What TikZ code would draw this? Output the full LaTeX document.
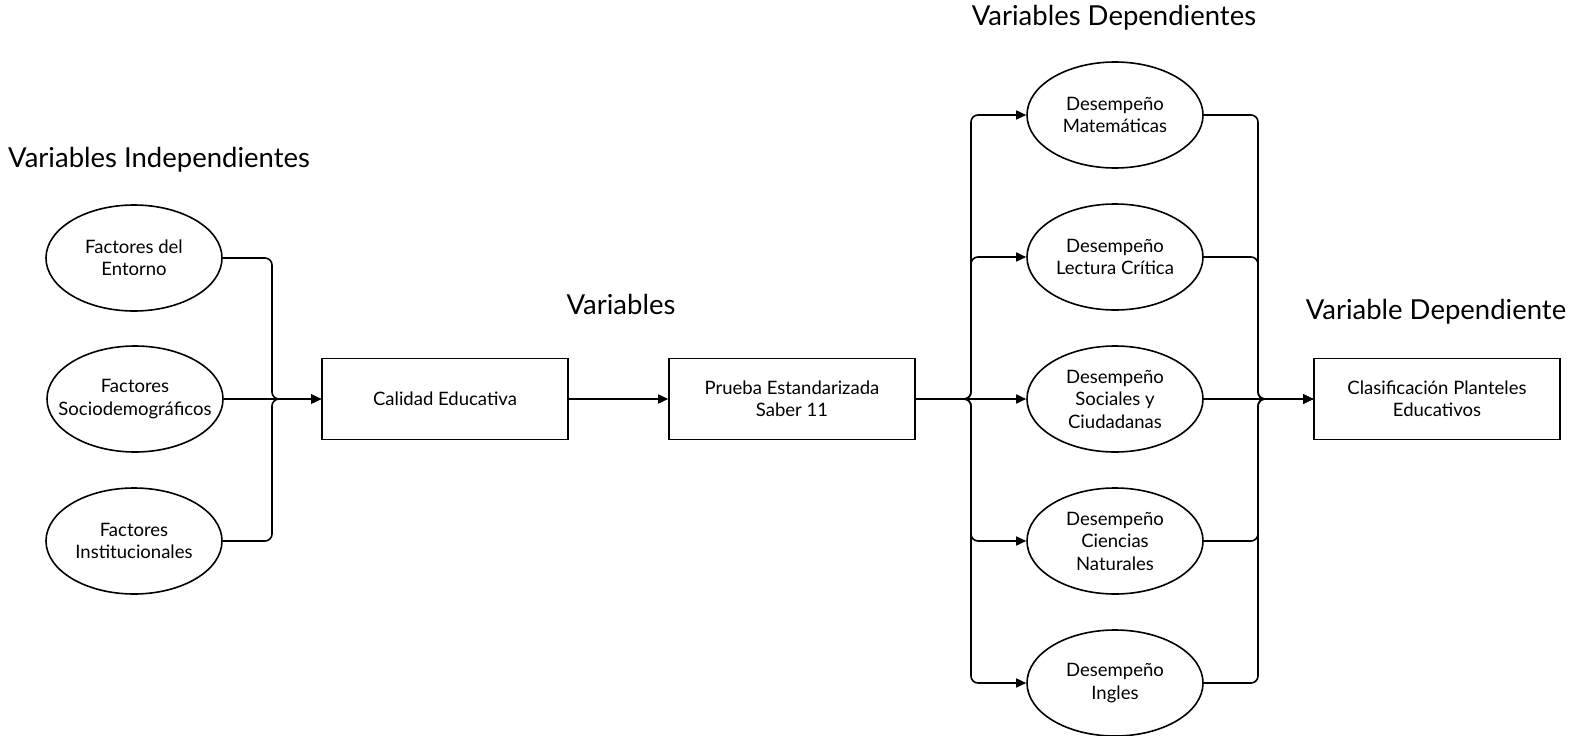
\documentclass[tikz,border=0pt]{standalone}
\usepackage{fontspec}
\setmainfont{Lato}
\usetikzlibrary{shapes.geometric,arrows.meta}
\begin{document}
\begin{tikzpicture}[x=1pt,y=-1pt,
  ell/.style={draw,ellipse,line width=1.6pt,minimum width=176pt,minimum height=106pt,inner xsep=-25pt,inner ysep=0pt,align=center,font=\fontsize{18.5}{22.5}\selectfont},
  bx/.style={draw,rectangle,line width=1.6pt,minimum width=246pt,minimum height=81pt,inner sep=0pt,align=center,font=\fontsize{18.5}{22.5}\selectfont},
  ttl/.style={font=\fontsize{27.5}{32}\selectfont,inner sep=0pt},
  con/.style={line width=1.6pt,rounded corners=7pt},
  arr/.style={con,-{Triangle[length=10pt,width=9pt]}}]
\useasboundingbox (0,0) rectangle (1569,736);
% titles
\node[ttl,anchor=west] (t1) at (8,160) {Variables Independientes};
\node[ttl] (t2) at (621,304) {Variables};
\node[ttl] (t3) at (1114,18) {Variables Dependientes};
\node[ttl] (t4) at (1436,312) {Variable Dependiente};
% left ellipses
\node[ell] (f1) at (134,258) {Factores del\\Entorno};
\node[ell] (f2) at (135,399) {Factores\\Sociodemográficos};
\node[ell] (f3) at (134,541) {Factores\\Institucionales};
% boxes
\node[bx] (cal) at (445,399) {Calidad Educativa};
\node[bx] (pr) at (792,399) {Prueba Estandarizada\\Saber 11};
\node[bx] (cls) at (1437,399) {Clasificación Planteles\\Educativos};
% right ellipses
\node[ell] (m1) at (1115,115) {Desempeño\\Matemáticas};
\node[ell] (m2) at (1115,257) {Desempeño\\Lectura Crítica};
\node[ell] (m3) at (1115,399) {Desempeño\\Sociales y\\Ciudadanas};
\node[ell] (m4) at (1115,541) {Desempeño\\Ciencias\\Naturales};
\node[ell] (m5) at (1115,683) {Desempeño\\Ingles};
% junctions
\coordinate (jl) at (272,399);
\coordinate (jm) at (971,399);
\coordinate (jr) at (1258,399);
% left connectors
\draw[arr] (f1.east) -| (jl) -- (cal.west);
\draw[arr] (f3.east) -| (jl) -- (cal.west);
\draw[arr] (f2.east) -- (cal.west);
\draw[arr] (cal.east) -- (pr.west);
% middle fan-out
\draw[arr] (pr.east) -- (jm) |- (m1.west);
\draw[arr] (pr.east) -- (jm) |- (m2.west);
\draw[arr] (pr.east) -- (m3.west);
\draw[arr] (pr.east) -- (jm) |- (m4.west);
\draw[arr] (pr.east) -- (jm) |- (m5.west);
% right fan-in
\draw[arr] (m1.east) -| (jr) -- (cls.west);
\draw[arr] (m2.east) -| (jr) -- (cls.west);
\draw[arr] (m3.east) -- (cls.west);
\draw[arr] (m4.east) -| (jr) -- (cls.west);
\draw[arr] (m5.east) -| (jr) -- (cls.west);
\end{tikzpicture}
\end{document}
